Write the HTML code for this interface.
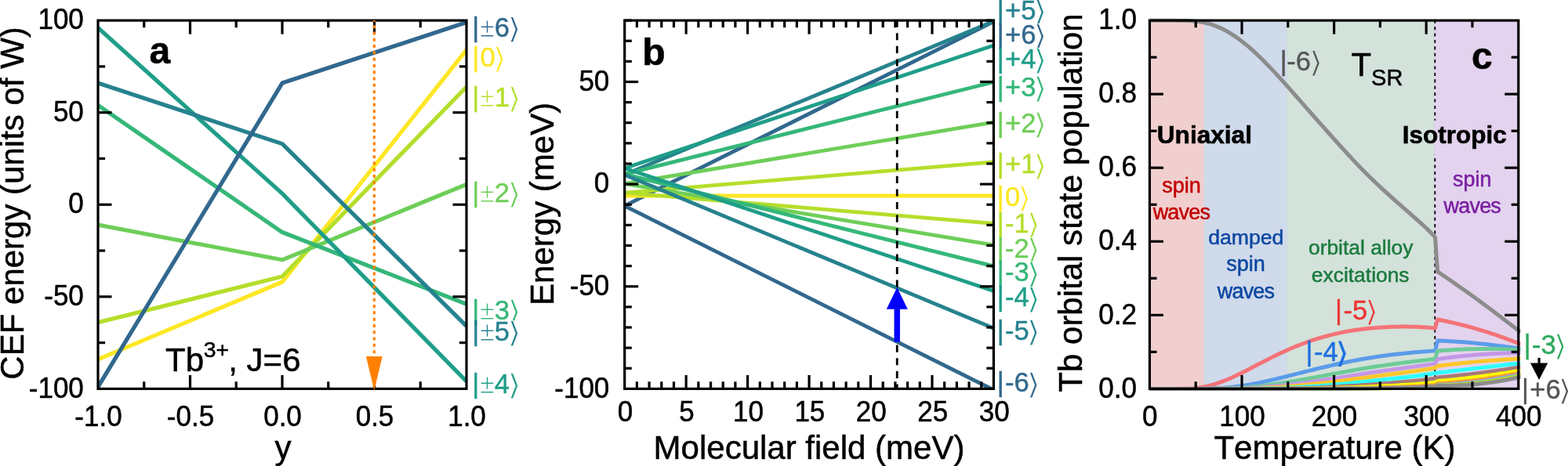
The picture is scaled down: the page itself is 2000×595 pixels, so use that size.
<!DOCTYPE html>
<html lang="en"><head><meta charset="utf-8"><title>CEF energy, molecular field and Tb orbital state population</title>
<style>
html,body{margin:0;padding:0;background:#fff;}
body{width:2000px;height:595px;overflow:hidden;}
svg{display:block;}
text{font-family:'Liberation Sans', Arial, Helvetica, sans-serif;font-kerning:none;}
.br{font-family:'DejaVu Sans', 'Liberation Sans', sans-serif;}
</style></head><body>
<svg width="2000" height="595" viewBox="0 0 2000 595">
<rect width="2000" height="595" fill="#fff"/>
<clipPath id="ca"><rect x="125.0" y="26.1" width="470.0" height="470.29999999999995"/></clipPath>
<g clip-path="url(#ca)" fill="none" stroke-width="5.2" stroke-linejoin="round">
<polyline points="125,458.78 360,360.01 595,63.72" stroke="#fde725"/>
<polyline points="125,411.75 360,352.96 595,110.75" stroke="#b5de2b"/>
<polyline points="125,287.12 360,331.8 595,235.38" stroke="#6ece58"/>
<polyline points="125,134.27 360,296.52 595,388.23" stroke="#35b779"/>
<polyline points="125,35.51 360,247.14 595,486.99" stroke="#1f9e89"/>
<polyline points="125,106.05 360,183.65 595,416.45" stroke="#26828e"/>
<polyline points="125,494.05 360,106.05 595,28.45" stroke="#31688e"/>
</g>
<rect x="125" y="26.1" width="470" height="470.3" fill="none" stroke="#000" stroke-width="3.2"/>
<line x1="242.5" y1="496.4" x2="242.5" y2="478.9" stroke="#000" stroke-width="3.2" />
<line x1="242.5" y1="26.1" x2="242.5" y2="43.6" stroke="#000" stroke-width="3.2" />
<line x1="360" y1="496.4" x2="360" y2="478.9" stroke="#000" stroke-width="3.2" />
<line x1="360" y1="26.1" x2="360" y2="43.6" stroke="#000" stroke-width="3.2" />
<line x1="477.5" y1="496.4" x2="477.5" y2="478.9" stroke="#000" stroke-width="3.2" />
<line x1="477.5" y1="26.1" x2="477.5" y2="43.6" stroke="#000" stroke-width="3.2" />
<line x1="183.75" y1="496.4" x2="183.75" y2="487.3" stroke="#000" stroke-width="3.2" />
<line x1="183.75" y1="26.1" x2="183.75" y2="35.2" stroke="#000" stroke-width="3.2" />
<line x1="301.25" y1="496.4" x2="301.25" y2="487.3" stroke="#000" stroke-width="3.2" />
<line x1="301.25" y1="26.1" x2="301.25" y2="35.2" stroke="#000" stroke-width="3.2" />
<line x1="418.75" y1="496.4" x2="418.75" y2="487.3" stroke="#000" stroke-width="3.2" />
<line x1="418.75" y1="26.1" x2="418.75" y2="35.2" stroke="#000" stroke-width="3.2" />
<line x1="536.25" y1="496.4" x2="536.25" y2="487.3" stroke="#000" stroke-width="3.2" />
<line x1="536.25" y1="26.1" x2="536.25" y2="35.2" stroke="#000" stroke-width="3.2" />
<line x1="125" y1="378.82" x2="142.5" y2="378.82" stroke="#000" stroke-width="3.2" />
<line x1="595" y1="378.82" x2="577.5" y2="378.82" stroke="#000" stroke-width="3.2" />
<line x1="125" y1="261.25" x2="142.5" y2="261.25" stroke="#000" stroke-width="3.2" />
<line x1="595" y1="261.25" x2="577.5" y2="261.25" stroke="#000" stroke-width="3.2" />
<line x1="125" y1="143.68" x2="142.5" y2="143.68" stroke="#000" stroke-width="3.2" />
<line x1="595" y1="143.68" x2="577.5" y2="143.68" stroke="#000" stroke-width="3.2" />
<line x1="125" y1="437.61" x2="134.1" y2="437.61" stroke="#000" stroke-width="3.2" />
<line x1="595" y1="437.61" x2="585.9" y2="437.61" stroke="#000" stroke-width="3.2" />
<line x1="125" y1="320.04" x2="134.1" y2="320.04" stroke="#000" stroke-width="3.2" />
<line x1="595" y1="320.04" x2="585.9" y2="320.04" stroke="#000" stroke-width="3.2" />
<line x1="125" y1="202.46" x2="134.1" y2="202.46" stroke="#000" stroke-width="3.2" />
<line x1="595" y1="202.46" x2="585.9" y2="202.46" stroke="#000" stroke-width="3.2" />
<line x1="125" y1="84.89" x2="134.1" y2="84.89" stroke="#000" stroke-width="3.2" />
<line x1="595" y1="84.89" x2="585.9" y2="84.89" stroke="#000" stroke-width="3.2" />
<line x1="477.3" y1="26.05" x2="477.3" y2="456" stroke="#ff8000" stroke-width="3.2" stroke-dasharray="4 4.3" stroke-dashoffset="2.2"/>
<polygon points="466.9,454.9 487.7,454.9 477.3,498.8" fill="#ff8000"/>
<text transform="translate(125.5,544.2) scale(1,1.04)" font-size="35" text-anchor="middle" fill="#000" stroke="#000" stroke-width="0.5" font-weight="normal" >-1.0</text>
<text transform="translate(243,544.2) scale(1,1.04)" font-size="35" text-anchor="middle" fill="#000" stroke="#000" stroke-width="0.5" font-weight="normal" >-0.5</text>
<text transform="translate(360.5,544.2) scale(1,1.04)" font-size="35" text-anchor="middle" fill="#000" stroke="#000" stroke-width="0.5" font-weight="normal" >0.0</text>
<text transform="translate(478,544.2) scale(1,1.04)" font-size="35" text-anchor="middle" fill="#000" stroke="#000" stroke-width="0.5" font-weight="normal" >0.5</text>
<text transform="translate(595.5,544.2) scale(1,1.04)" font-size="35" text-anchor="middle" fill="#000" stroke="#000" stroke-width="0.5" font-weight="normal" >1.0</text>
<text transform="translate(106.8,507.6) scale(1,1.04)" font-size="35" text-anchor="end" fill="#000" stroke="#000" stroke-width="0.5" font-weight="normal" >-100</text>
<text transform="translate(106.8,390.02) scale(1,1.04)" font-size="35" text-anchor="end" fill="#000" stroke="#000" stroke-width="0.5" font-weight="normal" >-50</text>
<text transform="translate(106.8,272.45) scale(1,1.04)" font-size="35" text-anchor="end" fill="#000" stroke="#000" stroke-width="0.5" font-weight="normal" >0</text>
<text transform="translate(106.8,154.88) scale(1,1.04)" font-size="35" text-anchor="end" fill="#000" stroke="#000" stroke-width="0.5" font-weight="normal" >50</text>
<text transform="translate(106.8,37.3) scale(1,1.04)" font-size="35" text-anchor="end" fill="#000" stroke="#000" stroke-width="0.5" font-weight="normal" >100</text>
<text transform="translate(361,586.2) scale(1,1)" font-size="42" text-anchor="middle" fill="#000" stroke="#000" stroke-width="0.5" font-weight="normal" >y</text>
<text transform="translate(29.9,259.4) rotate(-90)" font-size="42" text-anchor="middle" stroke="#000" stroke-width="0.5">CEF energy (units of W)</text>
<text transform="translate(190.5,81.2) scale(1,1)" font-size="48" text-anchor="start" fill="#000" stroke="#000" stroke-width="0.6" font-weight="bold" >a</text>
<text transform="translate(211,473.6)" font-size="42" text-anchor="start" stroke="#000" stroke-width="0.5">Tb<tspan font-size="28.4" dy="-17.5" dx="-0.3">3+</tspan><tspan dy="17.5" dx="-0.8">, J=6</tspan></text>
<text transform="translate(602.2,46.7) scale(1,1.0)" font-size="34.5" text-anchor="start" fill="#31688e" stroke="#31688e" stroke-width="0.4">|<tspan dx="0.7999999999999999" stroke="#fff" stroke-width="0.9">±</tspan><tspan dx="-0.2">6</tspan></text>
<text class="br" transform="translate(647.37,48.9) scale(1.31,1.06)" font-size="34.5" text-anchor="start" fill="#31688e" stroke="#fff" stroke-width="0.9">⟩</text>
<text transform="translate(602.2,85) scale(1,1.0)" font-size="34.5" text-anchor="start" fill="#fde725" stroke="#fde725" stroke-width="0.4">|<tspan dx="1.4">0</tspan></text>
<text class="br" transform="translate(628.42,87.2) scale(1.31,1.06)" font-size="34.5" text-anchor="start" fill="#fde725" stroke="#fff" stroke-width="0.9">⟩</text>
<text transform="translate(602.2,135.8) scale(1,1.0)" font-size="34.5" text-anchor="start" fill="#b5de2b" stroke="#b5de2b" stroke-width="0.4">|<tspan dx="0.7999999999999999" stroke="#fff" stroke-width="0.9">±</tspan><tspan dx="-0.2">1</tspan></text>
<text class="br" transform="translate(647.37,138) scale(1.31,1.06)" font-size="34.5" text-anchor="start" fill="#b5de2b" stroke="#fff" stroke-width="0.9">⟩</text>
<text transform="translate(602.2,258.2) scale(1,1.0)" font-size="34.5" text-anchor="start" fill="#6ece58" stroke="#6ece58" stroke-width="0.4">|<tspan dx="0.7999999999999999" stroke="#fff" stroke-width="0.9">±</tspan><tspan dx="-0.2">2</tspan></text>
<text class="br" transform="translate(647.37,260.4) scale(1.31,1.06)" font-size="34.5" text-anchor="start" fill="#6ece58" stroke="#fff" stroke-width="0.9">⟩</text>
<text transform="translate(602.2,407.7) scale(1,1.0)" font-size="34.5" text-anchor="start" fill="#35b779" stroke="#35b779" stroke-width="0.4">|<tspan dx="0.7999999999999999" stroke="#fff" stroke-width="0.9">±</tspan><tspan dx="-0.2">3</tspan></text>
<text class="br" transform="translate(647.37,409.9) scale(1.31,1.06)" font-size="34.5" text-anchor="start" fill="#35b779" stroke="#fff" stroke-width="0.9">⟩</text>
<text transform="translate(602.2,435) scale(1,1.0)" font-size="34.5" text-anchor="start" fill="#26828e" stroke="#26828e" stroke-width="0.4">|<tspan dx="0.7999999999999999" stroke="#fff" stroke-width="0.9">±</tspan><tspan dx="-0.2">5</tspan></text>
<text class="br" transform="translate(647.37,437.2) scale(1.31,1.06)" font-size="34.5" text-anchor="start" fill="#26828e" stroke="#fff" stroke-width="0.9">⟩</text>
<text transform="translate(602.2,501.5) scale(1,1.0)" font-size="34.5" text-anchor="start" fill="#1f9e89" stroke="#1f9e89" stroke-width="0.4">|<tspan dx="0.7999999999999999" stroke="#fff" stroke-width="0.9">±</tspan><tspan dx="-0.2">4</tspan></text>
<text class="br" transform="translate(647.37,503.7) scale(1.31,1.06)" font-size="34.5" text-anchor="start" fill="#1f9e89" stroke="#fff" stroke-width="0.9">⟩</text>
<clipPath id="cb"><rect x="796.7" y="26.1" width="470.70000000000005" height="470.29999999999995"/></clipPath>
<g clip-path="url(#cb)" fill="none" stroke-width="4.8">
<line x1="796.7" y1="262.82" x2="1267.4" y2="27.67" stroke="#31688e"/>
<line x1="796.7" y1="223.1" x2="1267.4" y2="27.15" stroke="#26828e"/>
<line x1="796.7" y1="214.74" x2="1267.4" y2="57.98" stroke="#1f9e89"/>
<line x1="796.7" y1="222.32" x2="1267.4" y2="104.74" stroke="#35b779"/>
<line x1="796.7" y1="234.6" x2="1267.4" y2="156.22" stroke="#6ece58"/>
<line x1="796.7" y1="246.1" x2="1267.4" y2="206.9" stroke="#b5de2b"/>
<line x1="796.7" y1="250.02" x2="1267.4" y2="250.02" stroke="#fde725"/>
<line x1="796.7" y1="246.1" x2="1267.4" y2="285.29" stroke="#b5de2b"/>
<line x1="796.7" y1="234.6" x2="1267.4" y2="312.98" stroke="#6ece58"/>
<line x1="796.7" y1="222.32" x2="1267.4" y2="339.89" stroke="#35b779"/>
<line x1="796.7" y1="214.74" x2="1267.4" y2="371.51" stroke="#1f9e89"/>
<line x1="796.7" y1="223.1" x2="1267.4" y2="419.06" stroke="#26828e"/>
<line x1="796.7" y1="262.82" x2="1267.4" y2="497.97" stroke="#31688e"/>
</g>
<line x1="1144.23" y1="25.6" x2="1144.23" y2="496.4" stroke="#000" stroke-width="2.8" stroke-dasharray="9.1 7.5"/>
<polygon points="1140.53,436.5 1140.53,394.8 1130.73,394.8 1144.23,367 1157.73,394.8 1147.93,394.8 1147.93,436.5" fill="#0000ff"/>
<rect x="796.7" y="26.1" width="470.7" height="470.3" fill="none" stroke="#000" stroke-width="3.2"/>
<line x1="875.15" y1="496.4" x2="875.15" y2="478.9" stroke="#000" stroke-width="3.2" />
<line x1="875.15" y1="26.1" x2="875.15" y2="43.6" stroke="#000" stroke-width="3.2" />
<line x1="953.6" y1="496.4" x2="953.6" y2="478.9" stroke="#000" stroke-width="3.2" />
<line x1="953.6" y1="26.1" x2="953.6" y2="43.6" stroke="#000" stroke-width="3.2" />
<line x1="1032.05" y1="496.4" x2="1032.05" y2="478.9" stroke="#000" stroke-width="3.2" />
<line x1="1032.05" y1="26.1" x2="1032.05" y2="43.6" stroke="#000" stroke-width="3.2" />
<line x1="1110.5" y1="496.4" x2="1110.5" y2="478.9" stroke="#000" stroke-width="3.2" />
<line x1="1110.5" y1="26.1" x2="1110.5" y2="43.6" stroke="#000" stroke-width="3.2" />
<line x1="1188.95" y1="496.4" x2="1188.95" y2="478.9" stroke="#000" stroke-width="3.2" />
<line x1="1188.95" y1="26.1" x2="1188.95" y2="43.6" stroke="#000" stroke-width="3.2" />
<line x1="812.39" y1="496.4" x2="812.39" y2="487.3" stroke="#000" stroke-width="3.2" />
<line x1="812.39" y1="26.1" x2="812.39" y2="35.2" stroke="#000" stroke-width="3.2" />
<line x1="828.08" y1="496.4" x2="828.08" y2="487.3" stroke="#000" stroke-width="3.2" />
<line x1="828.08" y1="26.1" x2="828.08" y2="35.2" stroke="#000" stroke-width="3.2" />
<line x1="843.77" y1="496.4" x2="843.77" y2="487.3" stroke="#000" stroke-width="3.2" />
<line x1="843.77" y1="26.1" x2="843.77" y2="35.2" stroke="#000" stroke-width="3.2" />
<line x1="859.46" y1="496.4" x2="859.46" y2="487.3" stroke="#000" stroke-width="3.2" />
<line x1="859.46" y1="26.1" x2="859.46" y2="35.2" stroke="#000" stroke-width="3.2" />
<line x1="890.84" y1="496.4" x2="890.84" y2="487.3" stroke="#000" stroke-width="3.2" />
<line x1="890.84" y1="26.1" x2="890.84" y2="35.2" stroke="#000" stroke-width="3.2" />
<line x1="906.53" y1="496.4" x2="906.53" y2="487.3" stroke="#000" stroke-width="3.2" />
<line x1="906.53" y1="26.1" x2="906.53" y2="35.2" stroke="#000" stroke-width="3.2" />
<line x1="922.22" y1="496.4" x2="922.22" y2="487.3" stroke="#000" stroke-width="3.2" />
<line x1="922.22" y1="26.1" x2="922.22" y2="35.2" stroke="#000" stroke-width="3.2" />
<line x1="937.91" y1="496.4" x2="937.91" y2="487.3" stroke="#000" stroke-width="3.2" />
<line x1="937.91" y1="26.1" x2="937.91" y2="35.2" stroke="#000" stroke-width="3.2" />
<line x1="969.29" y1="496.4" x2="969.29" y2="487.3" stroke="#000" stroke-width="3.2" />
<line x1="969.29" y1="26.1" x2="969.29" y2="35.2" stroke="#000" stroke-width="3.2" />
<line x1="984.98" y1="496.4" x2="984.98" y2="487.3" stroke="#000" stroke-width="3.2" />
<line x1="984.98" y1="26.1" x2="984.98" y2="35.2" stroke="#000" stroke-width="3.2" />
<line x1="1000.67" y1="496.4" x2="1000.67" y2="487.3" stroke="#000" stroke-width="3.2" />
<line x1="1000.67" y1="26.1" x2="1000.67" y2="35.2" stroke="#000" stroke-width="3.2" />
<line x1="1016.36" y1="496.4" x2="1016.36" y2="487.3" stroke="#000" stroke-width="3.2" />
<line x1="1016.36" y1="26.1" x2="1016.36" y2="35.2" stroke="#000" stroke-width="3.2" />
<line x1="1047.74" y1="496.4" x2="1047.74" y2="487.3" stroke="#000" stroke-width="3.2" />
<line x1="1047.74" y1="26.1" x2="1047.74" y2="35.2" stroke="#000" stroke-width="3.2" />
<line x1="1063.43" y1="496.4" x2="1063.43" y2="487.3" stroke="#000" stroke-width="3.2" />
<line x1="1063.43" y1="26.1" x2="1063.43" y2="35.2" stroke="#000" stroke-width="3.2" />
<line x1="1079.12" y1="496.4" x2="1079.12" y2="487.3" stroke="#000" stroke-width="3.2" />
<line x1="1079.12" y1="26.1" x2="1079.12" y2="35.2" stroke="#000" stroke-width="3.2" />
<line x1="1094.81" y1="496.4" x2="1094.81" y2="487.3" stroke="#000" stroke-width="3.2" />
<line x1="1094.81" y1="26.1" x2="1094.81" y2="35.2" stroke="#000" stroke-width="3.2" />
<line x1="1126.19" y1="496.4" x2="1126.19" y2="487.3" stroke="#000" stroke-width="3.2" />
<line x1="1126.19" y1="26.1" x2="1126.19" y2="35.2" stroke="#000" stroke-width="3.2" />
<line x1="1141.88" y1="496.4" x2="1141.88" y2="487.3" stroke="#000" stroke-width="3.2" />
<line x1="1141.88" y1="26.1" x2="1141.88" y2="35.2" stroke="#000" stroke-width="3.2" />
<line x1="1157.57" y1="496.4" x2="1157.57" y2="487.3" stroke="#000" stroke-width="3.2" />
<line x1="1157.57" y1="26.1" x2="1157.57" y2="35.2" stroke="#000" stroke-width="3.2" />
<line x1="1173.26" y1="496.4" x2="1173.26" y2="487.3" stroke="#000" stroke-width="3.2" />
<line x1="1173.26" y1="26.1" x2="1173.26" y2="35.2" stroke="#000" stroke-width="3.2" />
<line x1="1204.64" y1="496.4" x2="1204.64" y2="487.3" stroke="#000" stroke-width="3.2" />
<line x1="1204.64" y1="26.1" x2="1204.64" y2="35.2" stroke="#000" stroke-width="3.2" />
<line x1="1220.33" y1="496.4" x2="1220.33" y2="487.3" stroke="#000" stroke-width="3.2" />
<line x1="1220.33" y1="26.1" x2="1220.33" y2="35.2" stroke="#000" stroke-width="3.2" />
<line x1="1236.02" y1="496.4" x2="1236.02" y2="487.3" stroke="#000" stroke-width="3.2" />
<line x1="1236.02" y1="26.1" x2="1236.02" y2="35.2" stroke="#000" stroke-width="3.2" />
<line x1="1251.71" y1="496.4" x2="1251.71" y2="487.3" stroke="#000" stroke-width="3.2" />
<line x1="1251.71" y1="26.1" x2="1251.71" y2="35.2" stroke="#000" stroke-width="3.2" />
<line x1="796.7" y1="365.76" x2="814.2" y2="365.76" stroke="#000" stroke-width="3.2" />
<line x1="1267.4" y1="365.76" x2="1249.9" y2="365.76" stroke="#000" stroke-width="3.2" />
<line x1="796.7" y1="235.12" x2="814.2" y2="235.12" stroke="#000" stroke-width="3.2" />
<line x1="1267.4" y1="235.12" x2="1249.9" y2="235.12" stroke="#000" stroke-width="3.2" />
<line x1="796.7" y1="104.48" x2="814.2" y2="104.48" stroke="#000" stroke-width="3.2" />
<line x1="1267.4" y1="104.48" x2="1249.9" y2="104.48" stroke="#000" stroke-width="3.2" />
<line x1="796.7" y1="470.27" x2="805.8" y2="470.27" stroke="#000" stroke-width="3.2" />
<line x1="1267.4" y1="470.27" x2="1258.3" y2="470.27" stroke="#000" stroke-width="3.2" />
<line x1="796.7" y1="444.14" x2="805.8" y2="444.14" stroke="#000" stroke-width="3.2" />
<line x1="1267.4" y1="444.14" x2="1258.3" y2="444.14" stroke="#000" stroke-width="3.2" />
<line x1="796.7" y1="418.02" x2="805.8" y2="418.02" stroke="#000" stroke-width="3.2" />
<line x1="1267.4" y1="418.02" x2="1258.3" y2="418.02" stroke="#000" stroke-width="3.2" />
<line x1="796.7" y1="391.89" x2="805.8" y2="391.89" stroke="#000" stroke-width="3.2" />
<line x1="1267.4" y1="391.89" x2="1258.3" y2="391.89" stroke="#000" stroke-width="3.2" />
<line x1="796.7" y1="339.63" x2="805.8" y2="339.63" stroke="#000" stroke-width="3.2" />
<line x1="1267.4" y1="339.63" x2="1258.3" y2="339.63" stroke="#000" stroke-width="3.2" />
<line x1="796.7" y1="313.51" x2="805.8" y2="313.51" stroke="#000" stroke-width="3.2" />
<line x1="1267.4" y1="313.51" x2="1258.3" y2="313.51" stroke="#000" stroke-width="3.2" />
<line x1="796.7" y1="287.38" x2="805.8" y2="287.38" stroke="#000" stroke-width="3.2" />
<line x1="1267.4" y1="287.38" x2="1258.3" y2="287.38" stroke="#000" stroke-width="3.2" />
<line x1="796.7" y1="261.25" x2="805.8" y2="261.25" stroke="#000" stroke-width="3.2" />
<line x1="1267.4" y1="261.25" x2="1258.3" y2="261.25" stroke="#000" stroke-width="3.2" />
<line x1="796.7" y1="208.99" x2="805.8" y2="208.99" stroke="#000" stroke-width="3.2" />
<line x1="1267.4" y1="208.99" x2="1258.3" y2="208.99" stroke="#000" stroke-width="3.2" />
<line x1="796.7" y1="182.87" x2="805.8" y2="182.87" stroke="#000" stroke-width="3.2" />
<line x1="1267.4" y1="182.87" x2="1258.3" y2="182.87" stroke="#000" stroke-width="3.2" />
<line x1="796.7" y1="156.74" x2="805.8" y2="156.74" stroke="#000" stroke-width="3.2" />
<line x1="1267.4" y1="156.74" x2="1258.3" y2="156.74" stroke="#000" stroke-width="3.2" />
<line x1="796.7" y1="130.61" x2="805.8" y2="130.61" stroke="#000" stroke-width="3.2" />
<line x1="1267.4" y1="130.61" x2="1258.3" y2="130.61" stroke="#000" stroke-width="3.2" />
<line x1="796.7" y1="78.36" x2="805.8" y2="78.36" stroke="#000" stroke-width="3.2" />
<line x1="1267.4" y1="78.36" x2="1258.3" y2="78.36" stroke="#000" stroke-width="3.2" />
<line x1="796.7" y1="52.23" x2="805.8" y2="52.23" stroke="#000" stroke-width="3.2" />
<line x1="1267.4" y1="52.23" x2="1258.3" y2="52.23" stroke="#000" stroke-width="3.2" />
<line x1="796.7" y1="26.1" x2="805.8" y2="26.1" stroke="#000" stroke-width="3.2" />
<line x1="1267.4" y1="26.1" x2="1258.3" y2="26.1" stroke="#000" stroke-width="3.2" />
<text transform="translate(797.5,537.7) scale(1,1.04)" font-size="35" text-anchor="middle" fill="#000" stroke="#000" stroke-width="0.5" font-weight="normal" >0</text>
<text transform="translate(875.95,537.7) scale(1,1.04)" font-size="35" text-anchor="middle" fill="#000" stroke="#000" stroke-width="0.5" font-weight="normal" >5</text>
<text transform="translate(954.4,537.7) scale(1,1.04)" font-size="35" text-anchor="middle" fill="#000" stroke="#000" stroke-width="0.5" font-weight="normal" >10</text>
<text transform="translate(1032.85,537.7) scale(1,1.04)" font-size="35" text-anchor="middle" fill="#000" stroke="#000" stroke-width="0.5" font-weight="normal" >15</text>
<text transform="translate(1111.3,537.7) scale(1,1.04)" font-size="35" text-anchor="middle" fill="#000" stroke="#000" stroke-width="0.5" font-weight="normal" >20</text>
<text transform="translate(1189.75,537.7) scale(1,1.04)" font-size="35" text-anchor="middle" fill="#000" stroke="#000" stroke-width="0.5" font-weight="normal" >25</text>
<text transform="translate(1268.2,537.7) scale(1,1.04)" font-size="35" text-anchor="middle" fill="#000" stroke="#000" stroke-width="0.5" font-weight="normal" >30</text>
<text transform="translate(777.3,507.6) scale(1,1.04)" font-size="35" text-anchor="end" fill="#000" stroke="#000" stroke-width="0.5" font-weight="normal" >-100</text>
<text transform="translate(777.3,376.96) scale(1,1.04)" font-size="35" text-anchor="end" fill="#000" stroke="#000" stroke-width="0.5" font-weight="normal" >-50</text>
<text transform="translate(777.3,246.32) scale(1,1.04)" font-size="35" text-anchor="end" fill="#000" stroke="#000" stroke-width="0.5" font-weight="normal" >0</text>
<text transform="translate(777.3,115.68) scale(1,1.04)" font-size="35" text-anchor="end" fill="#000" stroke="#000" stroke-width="0.5" font-weight="normal" >50</text>
<text transform="translate(1032,586.3) scale(1,1)" font-size="42" text-anchor="middle" fill="#000" stroke="#000" stroke-width="0.5" font-weight="normal" >Molecular field (meV)</text>
<text transform="translate(706.3,260.4) rotate(-90)" font-size="42" text-anchor="middle" stroke="#000" stroke-width="0.5">Energy (meV)</text>
<text transform="translate(819.2,82.9) scale(1,1)" font-size="48" text-anchor="start" fill="#000" stroke="#000" stroke-width="0.6" font-weight="bold" >b</text>
<text transform="translate(1271.7,24.7) scale(1,1.0)" font-size="34.5" text-anchor="start" fill="#26828e" stroke="#26828e" stroke-width="0.4">|<tspan dx="1.4">+5</tspan></text>
<text class="br" transform="translate(1318.07,26.9) scale(1.31,1.06)" font-size="34.5" text-anchor="start" fill="#26828e" stroke="#fff" stroke-width="0.9">⟩</text>
<text transform="translate(1271.7,55.8) scale(1,1.0)" font-size="34.5" text-anchor="start" fill="#31688e" stroke="#31688e" stroke-width="0.4">|<tspan dx="1.4">+6</tspan></text>
<text class="br" transform="translate(1318.07,58) scale(1.31,1.06)" font-size="34.5" text-anchor="start" fill="#31688e" stroke="#fff" stroke-width="0.9">⟩</text>
<text transform="translate(1271.7,87.2) scale(1,1.0)" font-size="34.5" text-anchor="start" fill="#1f9e89" stroke="#1f9e89" stroke-width="0.4">|<tspan dx="1.4">+4</tspan></text>
<text class="br" transform="translate(1318.07,89.4) scale(1.31,1.06)" font-size="34.5" text-anchor="start" fill="#1f9e89" stroke="#fff" stroke-width="0.9">⟩</text>
<text transform="translate(1271.7,122.5) scale(1,1.0)" font-size="34.5" text-anchor="start" fill="#35b779" stroke="#35b779" stroke-width="0.4">|<tspan dx="1.4">+3</tspan></text>
<text class="br" transform="translate(1318.07,124.7) scale(1.31,1.06)" font-size="34.5" text-anchor="start" fill="#35b779" stroke="#fff" stroke-width="0.9">⟩</text>
<text transform="translate(1271.7,168.9) scale(1,1.0)" font-size="34.5" text-anchor="start" fill="#6ece58" stroke="#6ece58" stroke-width="0.4">|<tspan dx="1.4">+2</tspan></text>
<text class="br" transform="translate(1318.07,171.1) scale(1.31,1.06)" font-size="34.5" text-anchor="start" fill="#6ece58" stroke="#fff" stroke-width="0.9">⟩</text>
<text transform="translate(1271.7,221.4) scale(1,1.0)" font-size="34.5" text-anchor="start" fill="#b5de2b" stroke="#b5de2b" stroke-width="0.4">|<tspan dx="1.4">+1</tspan></text>
<text class="br" transform="translate(1318.07,223.6) scale(1.31,1.06)" font-size="34.5" text-anchor="start" fill="#b5de2b" stroke="#fff" stroke-width="0.9">⟩</text>
<text transform="translate(1271.7,263) scale(1,1.0)" font-size="34.5" text-anchor="start" fill="#fde725" stroke="#fde725" stroke-width="0.4">|<tspan dx="1.4">0</tspan></text>
<text class="br" transform="translate(1297.92,265.2) scale(1.31,1.06)" font-size="34.5" text-anchor="start" fill="#fde725" stroke="#fff" stroke-width="0.9">⟩</text>
<text transform="translate(1271.7,297.2) scale(1,1.0)" font-size="34.5" text-anchor="start" fill="#b5de2b" stroke="#b5de2b" stroke-width="0.4">|<tspan dx="1.4">-1</tspan></text>
<text class="br" transform="translate(1309.41,299.4) scale(1.31,1.06)" font-size="34.5" text-anchor="start" fill="#b5de2b" stroke="#fff" stroke-width="0.9">⟩</text>
<text transform="translate(1271.7,329) scale(1,1.0)" font-size="34.5" text-anchor="start" fill="#6ece58" stroke="#6ece58" stroke-width="0.4">|<tspan dx="1.4">-2</tspan></text>
<text class="br" transform="translate(1309.41,331.2) scale(1.31,1.06)" font-size="34.5" text-anchor="start" fill="#6ece58" stroke="#fff" stroke-width="0.9">⟩</text>
<text transform="translate(1271.7,359.4) scale(1,1.0)" font-size="34.5" text-anchor="start" fill="#35b779" stroke="#35b779" stroke-width="0.4">|<tspan dx="1.4">-3</tspan></text>
<text class="br" transform="translate(1309.41,361.6) scale(1.31,1.06)" font-size="34.5" text-anchor="start" fill="#35b779" stroke="#fff" stroke-width="0.9">⟩</text>
<text transform="translate(1271.7,391.4) scale(1,1.0)" font-size="34.5" text-anchor="start" fill="#1f9e89" stroke="#1f9e89" stroke-width="0.4">|<tspan dx="1.4">-4</tspan></text>
<text class="br" transform="translate(1309.41,393.6) scale(1.31,1.06)" font-size="34.5" text-anchor="start" fill="#1f9e89" stroke="#fff" stroke-width="0.9">⟩</text>
<text transform="translate(1271.7,433.8) scale(1,1.0)" font-size="34.5" text-anchor="start" fill="#26828e" stroke="#26828e" stroke-width="0.4">|<tspan dx="1.4">-5</tspan></text>
<text class="br" transform="translate(1309.41,436) scale(1.31,1.06)" font-size="34.5" text-anchor="start" fill="#26828e" stroke="#fff" stroke-width="0.9">⟩</text>
<text transform="translate(1271.7,500.3) scale(1,1.0)" font-size="34.5" text-anchor="start" fill="#31688e" stroke="#31688e" stroke-width="0.4">|<tspan dx="1.4">-6</tspan></text>
<text class="br" transform="translate(1309.41,502.5) scale(1.31,1.06)" font-size="34.5" text-anchor="start" fill="#31688e" stroke="#fff" stroke-width="0.9">⟩</text>
<rect x="1466.4" y="26.1" width="470.4" height="470.3" fill="#f2cfcf"/>
<rect x="1535.5" y="26.1" width="401.3" height="470.3" fill="#cfdaeb"/>
<rect x="1641.7" y="26.1" width="295.1" height="470.3" fill="#d3e2da"/>
<rect x="1829.1" y="26.1" width="107.7" height="470.3" fill="#e3d3ee"/>
<line x1="1830.3" y1="26.1" x2="1830.3" y2="496.4" stroke="#000" stroke-width="1.8" stroke-dasharray="4.1 4.3" stroke-dashoffset="0.4"/>
<clipPath id="cc"><rect x="1466.4" y="23.5" width="473" height="475.5"/></clipPath>
<g clip-path="url(#cc)" fill="none" stroke-width="5" stroke-linejoin="round">
<polyline points="1466.4,26.1 1471.1,26.1 1475.81,26.1 1480.51,26.1 1485.22,26.1 1489.92,26.1 1494.62,26.1 1499.33,26.11 1504.03,26.13 1508.74,26.19 1513.44,26.32 1518.14,26.54 1522.85,26.89 1527.55,27.41 1532.26,28.13 1536.96,29.06 1541.66,30.23 1546.37,31.66 1551.07,33.36 1555.78,35.33 1560.48,37.57 1565.18,40.09 1569.89,42.86 1574.59,45.9 1579.3,49.19 1584,52.71 1588.7,56.45 1593.41,60.41 1598.11,64.58 1602.82,68.93 1607.52,73.45 1612.22,78.12 1616.93,82.93 1621.63,87.86 1626.34,92.89 1631.04,98 1635.74,103.19 1640.45,108.43 1645.15,113.7 1649.86,119.01 1654.56,124.35 1659.26,129.7 1663.97,135.06 1668.67,140.42 1673.38,145.77 1678.08,151.11 1682.78,156.42 1687.49,161.71 1692.19,166.96 1696.9,172.23 1701.6,177.49 1706.3,182.73 1711.01,187.96 1715.71,193.14 1720.42,198.28 1725.12,203.36 1729.82,208.37 1734.53,213.3 1739.23,218.13 1743.94,222.85 1748.64,227.48 1753.34,232.02 1758.05,236.48 1762.75,240.86 1767.46,245.18 1772.16,249.44 1776.86,253.65 1781.57,257.83 1786.27,261.97 1790.98,266.1 1795.68,270.22 1800.38,274.35 1805.09,278.5 1809.79,282.7 1814.5,286.95 1819.2,291.27 1823.9,295.89 1828.61,300.83 1830.49,302.83 1833.66,346.84 1842.72,353 1848.6,357.04 1854.48,361.12 1860.36,365.24 1866.24,369.39 1872.12,373.58 1878,377.81 1883.88,382.07 1889.76,386.37 1895.64,390.71 1901.52,395.08 1907.4,399.49 1913.28,403.94 1919.16,408.42 1925.04,412.94 1930.92,417.5 1936.8,422.09 1939.74,424.4" stroke="#8c8c8c"/>
<polyline points="1466.4,496.4 1471.1,496.4 1475.81,496.4 1480.51,496.4 1485.22,496.4 1489.92,496.4 1494.62,496.4 1499.33,496.39 1504.03,496.37 1508.74,496.31 1513.44,496.19 1518.14,495.97 1522.85,495.63 1527.55,495.15 1532.26,494.49 1536.96,493.65 1541.66,492.62 1546.37,491.4 1551.07,489.99 1555.78,488.4 1560.48,486.65 1565.18,484.75 1569.89,482.72 1574.59,480.58 1579.3,478.34 1584,476.03 1588.7,473.66 1593.41,471.24 1598.11,468.8 1602.82,466.34 1607.52,463.88 1612.22,461.44 1616.93,459.02 1621.63,456.64 1626.34,454.31 1631.04,452.03 1635.74,449.81 1640.45,447.66 1645.15,445.58 1649.86,443.57 1654.56,441.64 1659.26,439.79 1663.97,438.02 1668.67,436.32 1673.38,434.71 1678.08,433.17 1682.78,431.72 1687.49,430.34 1692.19,429.04 1696.9,427.82 1701.6,426.67 1706.3,425.59 1711.01,424.59 1715.71,423.66 1720.42,422.81 1725.12,422.03 1729.82,421.31 1734.53,420.66 1739.23,420.07 1743.94,419.55 1748.64,419.08 1753.34,418.66 1758.05,418.3 1762.75,417.98 1767.46,417.71 1772.16,417.49 1776.86,417.32 1781.57,417.2 1786.27,417.11 1790.98,417.08 1795.68,417.09 1800.38,417.15 1805.09,417.27 1809.79,417.44 1814.5,417.67 1819.2,417.96 1823.9,418.36 1828.61,418.88 1830.49,419.11 1833.66,407.98 1842.72,409.77 1848.6,411.02 1854.48,412.34 1860.36,413.73 1866.24,415.2 1872.12,416.73 1878,418.34 1883.88,420.03 1889.76,421.78 1895.64,423.61 1901.52,425.51 1907.4,427.48 1913.28,429.52 1919.16,431.63 1925.04,433.82 1930.92,436.08 1936.8,438.41 1939.74,439.6" stroke="#f47378"/>
<polyline points="1466.4,496.4 1471.1,496.4 1475.81,496.4 1480.51,496.4 1485.22,496.4 1489.92,496.4 1494.62,496.4 1499.33,496.4 1504.03,496.4 1508.74,496.4 1513.44,496.4 1518.14,496.39 1522.85,496.38 1527.55,496.35 1532.26,496.31 1536.96,496.24 1541.66,496.13 1546.37,495.98 1551.07,495.79 1555.78,495.53 1560.48,495.22 1565.18,494.84 1569.89,494.39 1574.59,493.88 1579.3,493.29 1584,492.64 1588.7,491.92 1593.41,491.13 1598.11,490.28 1602.82,489.38 1607.52,488.42 1612.22,487.42 1616.93,486.37 1621.63,485.29 1626.34,484.18 1631.04,483.04 1635.74,481.88 1640.45,480.71 1645.15,479.53 1649.86,478.35 1654.56,477.16 1659.26,475.97 1663.97,474.79 1668.67,473.61 1673.38,472.45 1678.08,471.3 1682.78,470.17 1687.49,469.05 1692.19,467.96 1696.9,466.87 1701.6,465.81 1706.3,464.77 1711.01,463.75 1715.71,462.75 1720.42,461.79 1725.12,460.85 1729.82,459.95 1734.53,459.08 1739.23,458.24 1743.94,457.45 1748.64,456.68 1753.34,455.95 1758.05,455.25 1762.75,454.58 1767.46,453.94 1772.16,453.33 1776.86,452.74 1781.57,452.19 1786.27,451.66 1790.98,451.15 1795.68,450.67 1800.38,450.22 1805.09,449.79 1809.79,449.4 1814.5,449.02 1819.2,448.68 1823.9,448.37 1828.61,448.1 1830.49,448.01 1833.66,434.93 1842.72,435.36 1848.6,435.68 1854.48,436.03 1860.36,436.43 1866.24,436.86 1872.12,437.33 1878,437.83 1883.88,438.38 1889.76,438.95 1895.64,439.57 1901.52,440.22 1907.4,440.91 1913.28,441.63 1919.16,442.4 1925.04,443.2 1930.92,444.03 1936.8,444.9 1939.74,445.35" stroke="#5b9bea"/>
<polyline points="1466.4,496.4 1471.1,496.4 1475.81,496.4 1480.51,496.4 1485.22,496.4 1489.92,496.4 1494.62,496.4 1499.33,496.4 1504.03,496.4 1508.74,496.4 1513.44,496.4 1518.14,496.4 1522.85,496.4 1527.55,496.39 1532.26,496.38 1536.96,496.37 1541.66,496.34 1546.37,496.3 1551.07,496.24 1555.78,496.16 1560.48,496.05 1565.18,495.91 1569.89,495.74 1574.59,495.53 1579.3,495.28 1584,494.99 1588.7,494.65 1593.41,494.27 1598.11,493.85 1602.82,493.38 1607.52,492.87 1612.22,492.31 1616.93,491.72 1621.63,491.09 1626.34,490.42 1631.04,489.73 1635.74,489 1640.45,488.25 1645.15,487.48 1649.86,486.69 1654.56,485.87 1659.26,485.05 1663.97,484.21 1668.67,483.36 1673.38,482.5 1678.08,481.64 1682.78,480.77 1687.49,479.9 1692.19,479.03 1696.9,478.16 1701.6,477.28 1706.3,476.4 1711.01,475.53 1715.71,474.66 1720.42,473.8 1725.12,472.96 1729.82,472.13 1734.53,471.31 1739.23,470.52 1743.94,469.75 1748.64,469 1753.34,468.27 1758.05,467.56 1762.75,466.86 1767.46,466.19 1772.16,465.53 1776.86,464.89 1781.57,464.26 1786.27,463.64 1790.98,463.04 1795.68,462.45 1800.38,461.87 1805.09,461.3 1809.79,460.74 1814.5,460.19 1819.2,459.65 1823.9,459.1 1828.61,458.54 1830.49,458.32 1833.66,447.91 1842.72,447.25 1848.6,446.88 1854.48,446.55 1860.36,446.26 1866.24,446.01 1872.12,445.81 1878,445.65 1883.88,445.53 1889.76,445.46 1895.64,445.43 1901.52,445.44 1907.4,445.49 1913.28,445.59 1919.16,445.73 1925.04,445.91 1930.92,446.14 1936.8,446.41 1939.74,446.56" stroke="#6dcb96"/>
<polyline points="1466.4,496.4 1471.1,496.4 1475.81,496.4 1480.51,496.4 1485.22,496.4 1489.92,496.4 1494.62,496.4 1499.33,496.4 1504.03,496.4 1508.74,496.4 1513.44,496.4 1518.14,496.4 1522.85,496.4 1527.55,496.4 1532.26,496.4 1536.96,496.39 1541.66,496.38 1546.37,496.37 1551.07,496.35 1555.78,496.31 1560.48,496.27 1565.18,496.21 1569.89,496.13 1574.59,496.02 1579.3,495.9 1584,495.75 1588.7,495.57 1593.41,495.36 1598.11,495.12 1602.82,494.85 1607.52,494.54 1612.22,494.2 1616.93,493.83 1621.63,493.43 1626.34,492.99 1631.04,492.53 1635.74,492.04 1640.45,491.53 1645.15,490.99 1649.86,490.42 1654.56,489.84 1659.26,489.24 1663.97,488.61 1668.67,487.97 1673.38,487.32 1678.08,486.65 1682.78,485.97 1687.49,485.28 1692.19,484.58 1696.9,483.86 1701.6,483.14 1706.3,482.4 1711.01,481.65 1715.71,480.9 1720.42,480.15 1725.12,479.4 1729.82,478.66 1734.53,477.92 1739.23,477.19 1743.94,476.48 1748.64,475.78 1753.34,475.09 1758.05,474.41 1762.75,473.74 1767.46,473.08 1772.16,472.43 1776.86,471.78 1781.57,471.14 1786.27,470.5 1790.98,469.87 1795.68,469.24 1800.38,468.61 1805.09,467.98 1809.79,467.34 1814.5,466.7 1819.2,466.05 1823.9,465.36 1828.61,464.63 1830.49,464.34 1833.66,458.4 1842.72,457.19 1848.6,456.46 1854.48,455.77 1860.36,455.13 1866.24,454.53 1872.12,453.97 1878,453.45 1883.88,452.98 1889.76,452.55 1895.64,452.16 1901.52,451.81 1907.4,451.51 1913.28,451.25 1919.16,451.03 1925.04,450.86 1930.92,450.73 1936.8,450.64 1939.74,450.61" stroke="#c497e6"/>
<polyline points="1466.4,496.4 1471.1,496.4 1475.81,496.4 1480.51,496.4 1485.22,496.4 1489.92,496.4 1494.62,496.4 1499.33,496.4 1504.03,496.4 1508.74,496.4 1513.44,496.4 1518.14,496.4 1522.85,496.4 1527.55,496.4 1532.26,496.4 1536.96,496.4 1541.66,496.4 1546.37,496.39 1551.07,496.38 1555.78,496.37 1560.48,496.35 1565.18,496.33 1569.89,496.29 1574.59,496.24 1579.3,496.18 1584,496.11 1588.7,496.02 1593.41,495.91 1598.11,495.78 1602.82,495.62 1607.52,495.45 1612.22,495.25 1616.93,495.03 1621.63,494.78 1626.34,494.51 1631.04,494.21 1635.74,493.89 1640.45,493.55 1645.15,493.19 1649.86,492.81 1654.56,492.4 1659.26,491.97 1663.97,491.53 1668.67,491.06 1673.38,490.58 1678.08,490.08 1682.78,489.57 1687.49,489.04 1692.19,488.5 1696.9,487.93 1701.6,487.36 1706.3,486.76 1711.01,486.15 1715.71,485.53 1720.42,484.9 1725.12,484.27 1729.82,483.63 1734.53,482.99 1739.23,482.36 1743.94,481.73 1748.64,481.1 1753.34,480.48 1758.05,479.86 1762.75,479.25 1767.46,478.64 1772.16,478.03 1776.86,477.42 1781.57,476.8 1786.27,476.19 1790.98,475.57 1795.68,474.94 1800.38,474.31 1805.09,473.66 1809.79,473 1814.5,472.33 1819.2,471.63 1823.9,470.87 1828.61,470.05 1830.49,469.71 1833.66,467.29 1842.72,466.17 1848.6,465.48 1854.48,464.81 1860.36,464.17 1866.24,463.55 1872.12,462.95 1878,462.38 1883.88,461.84 1889.76,461.32 1895.64,460.82 1901.52,460.35 1907.4,459.9 1913.28,459.47 1919.16,459.07 1925.04,458.7 1930.92,458.35 1936.8,458.02 1939.74,457.87" stroke="#ffc62b"/>
<polyline points="1466.4,496.4 1471.1,496.4 1475.81,496.4 1480.51,496.4 1485.22,496.4 1489.92,496.4 1494.62,496.4 1499.33,496.4 1504.03,496.4 1508.74,496.4 1513.44,496.4 1518.14,496.4 1522.85,496.4 1527.55,496.4 1532.26,496.4 1536.96,496.4 1541.66,496.4 1546.37,496.4 1551.07,496.4 1555.78,496.39 1560.48,496.39 1565.18,496.38 1569.89,496.37 1574.59,496.35 1579.3,496.33 1584,496.31 1588.7,496.27 1593.41,496.23 1598.11,496.17 1602.82,496.11 1607.52,496.03 1612.22,495.94 1616.93,495.84 1621.63,495.72 1626.34,495.58 1631.04,495.43 1635.74,495.26 1640.45,495.08 1645.15,494.87 1649.86,494.66 1654.56,494.42 1659.26,494.17 1663.97,493.9 1668.67,493.62 1673.38,493.32 1678.08,493 1682.78,492.67 1687.49,492.33 1692.19,491.97 1696.9,491.59 1701.6,491.19 1706.3,490.77 1711.01,490.34 1715.71,489.9 1720.42,489.44 1725.12,488.97 1729.82,488.49 1734.53,488.01 1739.23,487.52 1743.94,487.03 1748.64,486.54 1753.34,486.04 1758.05,485.54 1762.75,485.04 1767.46,484.54 1772.16,484.03 1776.86,483.51 1781.57,482.99 1786.27,482.46 1790.98,481.92 1795.68,481.37 1800.38,480.8 1805.09,480.22 1809.79,479.61 1814.5,478.98 1819.2,478.33 1823.9,477.6 1828.61,476.8 1830.49,476.47 1833.66,475.99 1842.72,474.93 1848.6,474.25 1854.48,473.56 1860.36,472.87 1866.24,472.19 1872.12,471.5 1878,470.81 1883.88,470.13 1889.76,469.44 1895.64,468.75 1901.52,468.07 1907.4,467.38 1913.28,466.69 1919.16,466.01 1925.04,465.32 1930.92,464.64 1936.8,463.95 1939.74,463.61" stroke="#2effff"/>
<polyline points="1466.4,496.4 1471.1,496.4 1475.81,496.4 1480.51,496.4 1485.22,496.4 1489.92,496.4 1494.62,496.4 1499.33,496.4 1504.03,496.4 1508.74,496.4 1513.44,496.4 1518.14,496.4 1522.85,496.4 1527.55,496.4 1532.26,496.4 1536.96,496.4 1541.66,496.4 1546.37,496.4 1551.07,496.4 1555.78,496.4 1560.48,496.4 1565.18,496.4 1569.89,496.39 1574.59,496.39 1579.3,496.39 1584,496.38 1588.7,496.37 1593.41,496.36 1598.11,496.34 1602.82,496.32 1607.52,496.29 1612.22,496.26 1616.93,496.22 1621.63,496.18 1626.34,496.12 1631.04,496.06 1635.74,495.99 1640.45,495.91 1645.15,495.82 1649.86,495.72 1654.56,495.61 1659.26,495.49 1663.97,495.36 1668.67,495.22 1673.38,495.06 1678.08,494.9 1682.78,494.72 1687.49,494.53 1692.19,494.32 1696.9,494.11 1701.6,493.88 1706.3,493.63 1711.01,493.37 1715.71,493.1 1720.42,492.81 1725.12,492.52 1729.82,492.21 1734.53,491.89 1739.23,491.57 1743.94,491.24 1748.64,490.9 1753.34,490.56 1758.05,490.21 1762.75,489.85 1767.46,489.49 1772.16,489.12 1776.86,488.73 1781.57,488.34 1786.27,487.94 1790.98,487.53 1795.68,487.1 1800.38,486.66 1805.09,486.19 1809.79,485.71 1814.5,485.2 1819.2,484.66 1823.9,484.06 1828.61,483.38 1830.49,483.1 1833.66,481.91 1842.72,481.15 1848.6,480.62 1854.48,480.06 1860.36,479.47 1866.24,478.85 1872.12,478.2 1878,477.52 1883.88,476.81 1889.76,476.08 1895.64,475.31 1901.52,474.51 1907.4,473.69 1913.28,472.83 1919.16,471.95 1925.04,471.04 1930.92,470.09 1936.8,469.12 1939.74,468.63" stroke="#a77979"/>
<polyline points="1466.4,496.4 1471.1,496.4 1475.81,496.4 1480.51,496.4 1485.22,496.4 1489.92,496.4 1494.62,496.4 1499.33,496.4 1504.03,496.4 1508.74,496.4 1513.44,496.4 1518.14,496.4 1522.85,496.4 1527.55,496.4 1532.26,496.4 1536.96,496.4 1541.66,496.4 1546.37,496.4 1551.07,496.4 1555.78,496.4 1560.48,496.4 1565.18,496.4 1569.89,496.4 1574.59,496.4 1579.3,496.4 1584,496.4 1588.7,496.39 1593.41,496.39 1598.11,496.39 1602.82,496.38 1607.52,496.38 1612.22,496.37 1616.93,496.36 1621.63,496.34 1626.34,496.33 1631.04,496.31 1635.74,496.28 1640.45,496.26 1645.15,496.23 1649.86,496.19 1654.56,496.15 1659.26,496.1 1663.97,496.05 1668.67,495.99 1673.38,495.92 1678.08,495.85 1682.78,495.77 1687.49,495.68 1692.19,495.58 1696.9,495.48 1701.6,495.37 1706.3,495.24 1711.01,495.11 1715.71,494.97 1720.42,494.82 1725.12,494.66 1729.82,494.49 1734.53,494.31 1739.23,494.12 1743.94,493.93 1748.64,493.73 1753.34,493.53 1758.05,493.32 1762.75,493.1 1767.46,492.87 1772.16,492.63 1776.86,492.39 1781.57,492.13 1786.27,491.87 1790.98,491.59 1795.68,491.3 1800.38,490.99 1805.09,490.67 1809.79,490.33 1814.5,489.97 1819.2,489.58 1823.9,489.15 1828.61,488.65 1830.49,488.44 1833.66,486.52 1842.72,485.75 1848.6,485.21 1854.48,484.64 1860.36,484.04 1866.24,483.41 1872.12,482.76 1878,482.07 1883.88,481.35 1889.76,480.61 1895.64,479.83 1901.52,479.03 1907.4,478.2 1913.28,477.33 1919.16,476.44 1925.04,475.52 1930.92,474.57 1936.8,473.59 1939.74,473.09" stroke="#ffff00"/>
<polyline points="1466.4,496.4 1471.1,496.4 1475.81,496.4 1480.51,496.4 1485.22,496.4 1489.92,496.4 1494.62,496.4 1499.33,496.4 1504.03,496.4 1508.74,496.4 1513.44,496.4 1518.14,496.4 1522.85,496.4 1527.55,496.4 1532.26,496.4 1536.96,496.4 1541.66,496.4 1546.37,496.4 1551.07,496.4 1555.78,496.4 1560.48,496.4 1565.18,496.4 1569.89,496.4 1574.59,496.4 1579.3,496.4 1584,496.4 1588.7,496.4 1593.41,496.4 1598.11,496.4 1602.82,496.4 1607.52,496.4 1612.22,496.39 1616.93,496.39 1621.63,496.39 1626.34,496.38 1631.04,496.38 1635.74,496.37 1640.45,496.36 1645.15,496.35 1649.86,496.34 1654.56,496.32 1659.26,496.3 1663.97,496.28 1668.67,496.26 1673.38,496.23 1678.08,496.2 1682.78,496.17 1687.49,496.13 1692.19,496.09 1696.9,496.04 1701.6,495.98 1706.3,495.93 1711.01,495.86 1715.71,495.79 1720.42,495.71 1725.12,495.63 1729.82,495.54 1734.53,495.45 1739.23,495.34 1743.94,495.24 1748.64,495.13 1753.34,495.01 1758.05,494.88 1762.75,494.76 1767.46,494.62 1772.16,494.48 1776.86,494.33 1781.57,494.17 1786.27,494 1790.98,493.82 1795.68,493.64 1800.38,493.44 1805.09,493.22 1809.79,493 1814.5,492.75 1819.2,492.49 1823.9,492.18 1828.61,491.84 1830.49,491.69 1833.66,489.82 1842.72,489.25 1848.6,488.82 1854.48,488.34 1860.36,487.81 1866.24,487.24 1872.12,486.61 1878,485.94 1883.88,485.22 1889.76,484.44 1895.64,483.62 1901.52,482.75 1907.4,481.83 1913.28,480.87 1919.16,479.85 1925.04,478.78 1930.92,477.67 1936.8,476.51 1939.74,475.91" stroke="#ff9933"/>
<polyline points="1466.4,496.4 1471.1,496.4 1475.81,496.4 1480.51,496.4 1485.22,496.4 1489.92,496.4 1494.62,496.4 1499.33,496.4 1504.03,496.4 1508.74,496.4 1513.44,496.4 1518.14,496.4 1522.85,496.4 1527.55,496.4 1532.26,496.4 1536.96,496.4 1541.66,496.4 1546.37,496.4 1551.07,496.4 1555.78,496.4 1560.48,496.4 1565.18,496.4 1569.89,496.4 1574.59,496.4 1579.3,496.4 1584,496.4 1588.7,496.4 1593.41,496.4 1598.11,496.4 1602.82,496.4 1607.52,496.4 1612.22,496.4 1616.93,496.4 1621.63,496.4 1626.34,496.39 1631.04,496.39 1635.74,496.39 1640.45,496.39 1645.15,496.38 1649.86,496.38 1654.56,496.37 1659.26,496.36 1663.97,496.36 1668.67,496.35 1673.38,496.33 1678.08,496.32 1682.78,496.3 1687.49,496.29 1692.19,496.26 1696.9,496.24 1701.6,496.21 1706.3,496.18 1711.01,496.15 1715.71,496.11 1720.42,496.07 1725.12,496.03 1729.82,495.98 1734.53,495.92 1739.23,495.86 1743.94,495.8 1748.64,495.74 1753.34,495.67 1758.05,495.59 1762.75,495.51 1767.46,495.43 1772.16,495.34 1776.86,495.24 1781.57,495.14 1786.27,495.03 1790.98,494.91 1795.68,494.79 1800.38,494.65 1805.09,494.51 1809.79,494.35 1814.5,494.18 1819.2,493.99 1823.9,493.78 1828.61,493.52 1830.49,493.42 1833.66,491.46 1842.72,491.07 1848.6,490.73 1854.48,490.34 1860.36,489.88 1866.24,489.36 1872.12,488.79 1878,488.15 1883.88,487.45 1889.76,486.68 1895.64,485.86 1901.52,484.98 1907.4,484.03 1913.28,483.02 1919.16,481.96 1925.04,480.83 1930.92,479.64 1936.8,478.39 1939.74,477.74" stroke="#87acd7"/>
<polyline points="1466.4,496.4 1471.1,496.4 1475.81,496.4 1480.51,496.4 1485.22,496.4 1489.92,496.4 1494.62,496.4 1499.33,496.4 1504.03,496.4 1508.74,496.4 1513.44,496.4 1518.14,496.4 1522.85,496.4 1527.55,496.4 1532.26,496.4 1536.96,496.4 1541.66,496.4 1546.37,496.4 1551.07,496.4 1555.78,496.4 1560.48,496.4 1565.18,496.4 1569.89,496.4 1574.59,496.4 1579.3,496.4 1584,496.4 1588.7,496.4 1593.41,496.4 1598.11,496.4 1602.82,496.4 1607.52,496.4 1612.22,496.4 1616.93,496.4 1621.63,496.4 1626.34,496.4 1631.04,496.4 1635.74,496.39 1640.45,496.39 1645.15,496.39 1649.86,496.39 1654.56,496.38 1659.26,496.38 1663.97,496.37 1668.67,496.37 1673.38,496.36 1678.08,496.35 1682.78,496.34 1687.49,496.33 1692.19,496.32 1696.9,496.3 1701.6,496.28 1706.3,496.26 1711.01,496.24 1715.71,496.21 1720.42,496.18 1725.12,496.15 1729.82,496.11 1734.53,496.07 1739.23,496.03 1743.94,495.99 1748.64,495.94 1753.34,495.88 1758.05,495.82 1762.75,495.76 1767.46,495.7 1772.16,495.63 1776.86,495.55 1781.57,495.47 1786.27,495.38 1790.98,495.29 1795.68,495.19 1800.38,495.08 1805.09,494.96 1809.79,494.83 1814.5,494.68 1819.2,494.52 1823.9,494.34 1828.61,494.12 1830.49,494.03 1833.66,492.17 1842.72,492.01 1848.6,491.81 1854.48,491.54 1860.36,491.19 1866.24,490.77 1872.12,490.28 1878,489.72 1883.88,489.08 1889.76,488.37 1895.64,487.58 1901.52,486.72 1907.4,485.79 1913.28,484.79 1919.16,483.71 1925.04,482.56 1930.92,481.33 1936.8,480.03 1939.74,479.36" stroke="#b5de2b"/>
<polyline points="1466.4,496.4 1471.1,496.4 1475.81,496.4 1480.51,496.4 1485.22,496.4 1489.92,496.4 1494.62,496.4 1499.33,496.4 1504.03,496.4 1508.74,496.4 1513.44,496.4 1518.14,496.4 1522.85,496.4 1527.55,496.4 1532.26,496.4 1536.96,496.4 1541.66,496.4 1546.37,496.4 1551.07,496.4 1555.78,496.4 1560.48,496.4 1565.18,496.4 1569.89,496.4 1574.59,496.4 1579.3,496.4 1584,496.4 1588.7,496.4 1593.41,496.4 1598.11,496.4 1602.82,496.4 1607.52,496.4 1612.22,496.4 1616.93,496.4 1621.63,496.4 1626.34,496.4 1631.04,496.39 1635.74,496.39 1640.45,496.39 1645.15,496.39 1649.86,496.38 1654.56,496.38 1659.26,496.37 1663.97,496.37 1668.67,496.36 1673.38,496.35 1678.08,496.34 1682.78,496.32 1687.49,496.31 1692.19,496.29 1696.9,496.27 1701.6,496.25 1706.3,496.22 1711.01,496.19 1715.71,496.16 1720.42,496.12 1725.12,496.08 1729.82,496.04 1734.53,495.99 1739.23,495.94 1743.94,495.88 1748.64,495.82 1753.34,495.75 1758.05,495.68 1762.75,495.61 1767.46,495.53 1772.16,495.44 1776.86,495.35 1781.57,495.25 1786.27,495.14 1790.98,495.03 1795.68,494.9 1800.38,494.76 1805.09,494.62 1809.79,494.45 1814.5,494.27 1819.2,494.07 1823.9,493.84 1828.61,493.56 1830.49,493.44 1833.66,492.4 1842.72,492.49 1848.6,492.44 1854.48,492.32 1860.36,492.11 1866.24,491.81 1872.12,491.44 1878,490.98 1883.88,490.44 1889.76,489.82 1895.64,489.12 1901.52,488.34 1907.4,487.47 1913.28,486.53 1919.16,485.5 1925.04,484.38 1930.92,483.19 1936.8,481.91 1939.74,481.25" stroke="#8c8c8c"/>
</g>
<rect x="1466.4" y="26.1" width="470.4" height="470.3" fill="none" stroke="#000" stroke-width="3.2"/>
<line x1="1584" y1="496.4" x2="1584" y2="478.9" stroke="#000" stroke-width="3.2" />
<line x1="1584" y1="26.1" x2="1584" y2="43.6" stroke="#000" stroke-width="3.2" />
<line x1="1701.6" y1="496.4" x2="1701.6" y2="478.9" stroke="#000" stroke-width="3.2" />
<line x1="1701.6" y1="26.1" x2="1701.6" y2="43.6" stroke="#000" stroke-width="3.2" />
<line x1="1819.2" y1="496.4" x2="1819.2" y2="478.9" stroke="#000" stroke-width="3.2" />
<line x1="1819.2" y1="26.1" x2="1819.2" y2="43.6" stroke="#000" stroke-width="3.2" />
<line x1="1525.2" y1="496.4" x2="1525.2" y2="487.3" stroke="#000" stroke-width="3.2" />
<line x1="1525.2" y1="26.1" x2="1525.2" y2="35.2" stroke="#000" stroke-width="3.2" />
<line x1="1642.8" y1="496.4" x2="1642.8" y2="487.3" stroke="#000" stroke-width="3.2" />
<line x1="1642.8" y1="26.1" x2="1642.8" y2="35.2" stroke="#000" stroke-width="3.2" />
<line x1="1760.4" y1="496.4" x2="1760.4" y2="487.3" stroke="#000" stroke-width="3.2" />
<line x1="1760.4" y1="26.1" x2="1760.4" y2="35.2" stroke="#000" stroke-width="3.2" />
<line x1="1878" y1="496.4" x2="1878" y2="487.3" stroke="#000" stroke-width="3.2" />
<line x1="1878" y1="26.1" x2="1878" y2="35.2" stroke="#000" stroke-width="3.2" />
<line x1="1466.4" y1="402.34" x2="1483.9" y2="402.34" stroke="#000" stroke-width="3.2" />
<line x1="1936.8" y1="402.34" x2="1919.3" y2="402.34" stroke="#000" stroke-width="3.2" />
<line x1="1466.4" y1="308.28" x2="1483.9" y2="308.28" stroke="#000" stroke-width="3.2" />
<line x1="1936.8" y1="308.28" x2="1919.3" y2="308.28" stroke="#000" stroke-width="3.2" />
<line x1="1466.4" y1="214.22" x2="1483.9" y2="214.22" stroke="#000" stroke-width="3.2" />
<line x1="1936.8" y1="214.22" x2="1919.3" y2="214.22" stroke="#000" stroke-width="3.2" />
<line x1="1466.4" y1="120.16" x2="1483.9" y2="120.16" stroke="#000" stroke-width="3.2" />
<line x1="1936.8" y1="120.16" x2="1919.3" y2="120.16" stroke="#000" stroke-width="3.2" />
<line x1="1466.4" y1="449.37" x2="1475.5" y2="449.37" stroke="#000" stroke-width="3.2" />
<line x1="1936.8" y1="449.37" x2="1927.7" y2="449.37" stroke="#000" stroke-width="3.2" />
<line x1="1466.4" y1="355.31" x2="1475.5" y2="355.31" stroke="#000" stroke-width="3.2" />
<line x1="1936.8" y1="355.31" x2="1927.7" y2="355.31" stroke="#000" stroke-width="3.2" />
<line x1="1466.4" y1="261.25" x2="1475.5" y2="261.25" stroke="#000" stroke-width="3.2" />
<line x1="1936.8" y1="261.25" x2="1927.7" y2="261.25" stroke="#000" stroke-width="3.2" />
<line x1="1466.4" y1="167.19" x2="1475.5" y2="167.19" stroke="#000" stroke-width="3.2" />
<line x1="1936.8" y1="167.19" x2="1927.7" y2="167.19" stroke="#000" stroke-width="3.2" />
<line x1="1466.4" y1="73.13" x2="1475.5" y2="73.13" stroke="#000" stroke-width="3.2" />
<line x1="1936.8" y1="73.13" x2="1927.7" y2="73.13" stroke="#000" stroke-width="3.2" />
<text transform="translate(1466.8,544.2) scale(1,1.04)" font-size="35" text-anchor="middle" fill="#000" stroke="#000" stroke-width="0.5" font-weight="normal" >0</text>
<text transform="translate(1584.4,544.2) scale(1,1.04)" font-size="35" text-anchor="middle" fill="#000" stroke="#000" stroke-width="0.5" font-weight="normal" >100</text>
<text transform="translate(1702,544.2) scale(1,1.04)" font-size="35" text-anchor="middle" fill="#000" stroke="#000" stroke-width="0.5" font-weight="normal" >200</text>
<text transform="translate(1819.6,544.2) scale(1,1.04)" font-size="35" text-anchor="middle" fill="#000" stroke="#000" stroke-width="0.5" font-weight="normal" >300</text>
<text transform="translate(1937.2,544.2) scale(1,1.04)" font-size="35" text-anchor="middle" fill="#000" stroke="#000" stroke-width="0.5" font-weight="normal" >400</text>
<text transform="translate(1450,507.6) scale(1,1.04)" font-size="35" text-anchor="end" fill="#000" stroke="#000" stroke-width="0.5" font-weight="normal" >0.0</text>
<text transform="translate(1450,413.54) scale(1,1.04)" font-size="35" text-anchor="end" fill="#000" stroke="#000" stroke-width="0.5" font-weight="normal" >0.2</text>
<text transform="translate(1450,319.48) scale(1,1.04)" font-size="35" text-anchor="end" fill="#000" stroke="#000" stroke-width="0.5" font-weight="normal" >0.4</text>
<text transform="translate(1450,225.42) scale(1,1.04)" font-size="35" text-anchor="end" fill="#000" stroke="#000" stroke-width="0.5" font-weight="normal" >0.6</text>
<text transform="translate(1450,131.36) scale(1,1.04)" font-size="35" text-anchor="end" fill="#000" stroke="#000" stroke-width="0.5" font-weight="normal" >0.8</text>
<text transform="translate(1450,37.3) scale(1,1.04)" font-size="35" text-anchor="end" fill="#000" stroke="#000" stroke-width="0.5" font-weight="normal" >1.0</text>
<text transform="translate(1702.5,586.3) scale(1,1)" font-size="42" text-anchor="middle" fill="#000" stroke="#000" stroke-width="0.5" font-weight="normal" >Temperature (K)</text>
<text transform="translate(1380.4,259) rotate(-90)" font-size="42" text-anchor="middle" stroke="#000" stroke-width="0.5">Tb orbital state population</text>
<text transform="translate(1876.9,88.1) scale(1,1)" font-size="48" text-anchor="start" fill="#000" stroke="#000" stroke-width="0.6" font-weight="bold" >c</text>
<text transform="translate(1475.8,183) scale(1,1.0)" font-size="31.6" text-anchor="start" fill="#000" stroke="#000" stroke-width="0.6" font-weight="bold" >Uniaxial</text>
<rect x="1826" y="153.8" width="3.2" height="44" fill="#d3e2da"/><rect x="1829.1" y="153.8" width="4" height="44" fill="#e3d3ee"/>
<text transform="translate(1855.2,183) scale(1,1.0)" font-size="31.5" text-anchor="middle" fill="#000" stroke="#000" stroke-width="0.6" font-weight="bold" >Isotropic</text>
<text transform="translate(1506.9,245.8) scale(1,1.0)" font-size="27" text-anchor="middle" fill="#c00000" stroke="#c00000" stroke-width="0.5" font-weight="normal" >spin</text>
<text transform="translate(1506.9,280.4) scale(1,1.0)" font-size="27" text-anchor="middle" fill="#c00000" stroke="#c00000" stroke-width="0.5" font-weight="normal" letter-spacing="-0.8">waves</text>
<text transform="translate(1877.8,237.5) scale(1,1.0)" font-size="27" text-anchor="middle" fill="#7b1fa2" stroke="#7b1fa2" stroke-width="0.5" font-weight="normal" >spin</text>
<text transform="translate(1877.8,271.9) scale(1,1.0)" font-size="27" text-anchor="middle" fill="#7b1fa2" stroke="#7b1fa2" stroke-width="0.5" font-weight="normal" letter-spacing="-0.8">waves</text>
<text transform="translate(1589.3,312) scale(1,1.0)" font-size="26.6" text-anchor="middle" fill="#0d47a1" stroke="#0d47a1" stroke-width="0.5" font-weight="normal" >damped</text>
<text transform="translate(1589,346.2) scale(1,1.0)" font-size="27" text-anchor="middle" fill="#0d47a1" stroke="#0d47a1" stroke-width="0.5" font-weight="normal" >spin</text>
<text transform="translate(1589,381) scale(1,1.0)" font-size="27" text-anchor="middle" fill="#0d47a1" stroke="#0d47a1" stroke-width="0.5" font-weight="normal" letter-spacing="-0.8">waves</text>
<text transform="translate(1735.7,325.2) scale(1,1.0)" font-size="26.4" text-anchor="middle" fill="#1b7a3e" stroke="#1b7a3e" stroke-width="0.5" font-weight="normal" >orbital alloy</text>
<text transform="translate(1735.2,359.5) scale(1,1.0)" font-size="26.4" text-anchor="middle" fill="#1b7a3e" stroke="#1b7a3e" stroke-width="0.5" font-weight="normal" >excitations</text>
<text transform="translate(1723.4,97.2)" font-size="42" text-anchor="start" stroke="#000" stroke-width="0.5">T<tspan font-size="29" dy="11.6">SR</tspan></text>
<text transform="translate(1632.8,89.5) scale(1,1.0)" font-size="34.5" text-anchor="start" fill="#555" stroke="#555" stroke-width="0.4">|<tspan dx="-0.6">-6</tspan></text>
<text class="br" transform="translate(1669.71,91.7) scale(1.31,1.06)" font-size="34.5" text-anchor="start" fill="#555" stroke="#d3e2da" stroke-width="0.9">⟩</text>
<text transform="translate(1703.1,407.9) scale(1,1.0)" font-size="34.5" text-anchor="start" fill="#ee3333" stroke="#ee3333" stroke-width="0.4">|<tspan dx="1.4">-5</tspan></text>
<text class="br" transform="translate(1740.81,410.1) scale(1.31,1.06)" font-size="34.5" text-anchor="start" fill="#ee3333" stroke="#d3e2da" stroke-width="0.9">⟩</text>
<text transform="translate(1665.6,460.6) scale(1,1.0)" font-size="34.5" text-anchor="start" fill="#1e6fe0" stroke="#1e6fe0" stroke-width="0.4">|<tspan dx="1.4">-4</tspan></text>
<text class="br" transform="translate(1703.31,462.8) scale(1.31,1.06)" font-size="34.5" text-anchor="start" fill="#1e6fe0" stroke="none" stroke-width="0.9">⟩</text>
<text transform="translate(1943.7,452) scale(1,1.0)" font-size="34.5" text-anchor="start" fill="#2eaa5e" stroke="#2eaa5e" stroke-width="0.4">|<tspan dx="1.4">-3</tspan></text>
<text class="br" transform="translate(1981.41,454.2) scale(1.31,1.06)" font-size="34.5" text-anchor="start" fill="#2eaa5e" stroke="#fff" stroke-width="0.9">⟩</text>
<text transform="translate(1940.9,509) scale(1,1.0)" font-size="34.5" text-anchor="start" fill="#555" stroke="#555" stroke-width="0.4">|<tspan dx="1.4">+6</tspan></text>
<text class="br" transform="translate(1987.27,511.2) scale(1.31,1.06)" font-size="34.5" text-anchor="start" fill="#555" stroke="#fff" stroke-width="0.9">⟩</text>
<polygon points="1952,463.5 1974.2,463.5 1963.1,485" fill="#000"/>
<line x1="1963.1" y1="456.9" x2="1963.1" y2="466" stroke="#000" stroke-width="3.2" />
</svg>
</body></html>
